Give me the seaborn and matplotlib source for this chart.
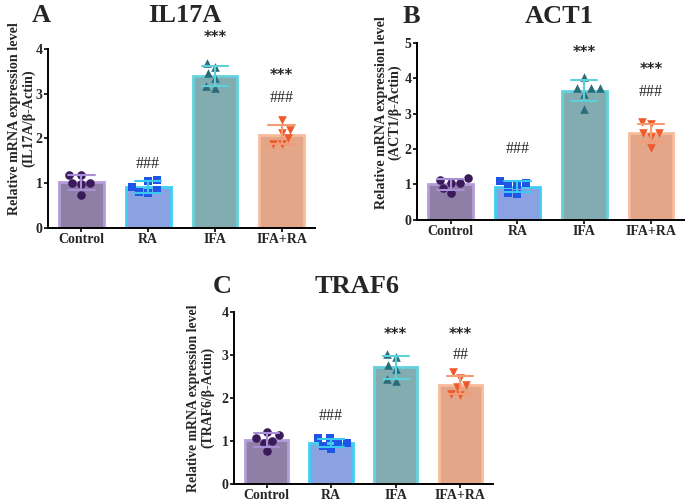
import numpy as np
import pandas as pd
import matplotlib
matplotlib.use("Agg")
import matplotlib.pyplot as plt
import seaborn as sns

# ------------------------------------------------------------
# Data
# ------------------------------------------------------------
groups = ["Control", "RA", "IFA", "IFA+RA"]

il17a_control = [1.18, 1.18, 1.00, 1.00, 0.98, 0.74]
il17a_ra = [1.08, 1.05, 0.91, 0.85, 0.80, 0.78]
il17a_ifa = [3.68, 3.47, 3.60, 3.35, 3.12, 3.17]
il17a_ifa_ra = [2.41, 2.19, 2.13, 2.00, 1.87, 1.87]

act1_control = [1.17, 1.03, 0.75, 1.12, 0.90, 1.05]
act1_ra = [0.99, 1.11, 0.75, 1.02, 0.72, 1.04]
act1_ifa = [4.02, 3.71, 3.72, 3.55, 3.73, 3.12]
act1_ifa_ra = [2.76, 2.71, 2.44, 2.45, 2.33, 2.03]

traf6_control = [1.06, 1.20, 1.00, 1.14, 0.95, 0.76]
traf6_ra = [0.89, 1.06, 0.95, 0.96, 1.06, 0.81]
traf6_ifa = [2.95, 3.03, 2.77, 2.66, 2.39, 2.44]
traf6_ifa_ra = [2.60, 2.47, 2.30, 2.25, 2.08, 2.06]

# significance marks: (group, text, y)
il17a_marks = [("IFA", "***", 4.25), ("IFA+RA", "***", 3.40),
               ("IFA+RA", "###", 2.90), ("RA", "###", 1.43)]
act1_marks = [("IFA", "***", 4.73), ("IFA+RA", "***", 4.24),
              ("IFA+RA", "###", 3.60), ("RA", "###", 2.00)]
traf6_marks = [("IFA", "***", 3.48), ("IFA+RA", "***", 3.48),
               ("IFA+RA", "##", 3.00), ("RA", "###", 1.58)]

# ------------------------------------------------------------
# Styling
# ------------------------------------------------------------
bar_face = {"Control": "#8E78AC", "RA": "#7B9CF0", "IFA": "#7AB3B8", "IFA+RA": "#F2A07A"}
bar_edge = {"Control": "#B49DDB", "RA": "#3FCFF4", "IFA": "#64D2DC", "IFA+RA": "#F8BC9C"}
pt_color = {"Control": "#3B1A5A", "RA": "#1F55E6", "IFA": "#2B6C7A", "IFA+RA": "#EF5A2C"}
err_color = {"Control": "#A98FD6", "RA": "#38C8F2", "IFA": "#5ED0DA", "IFA+RA": "#F59A72"}
markers = {"Control": "o", "RA": "s", "IFA": "^", "IFA+RA": "v"}

sns.set_style("ticks")
plt.rcParams["font.family"] = ["Liberation Serif", "DejaVu Serif"]
plt.rcParams["font.weight"] = "bold"


def make_df(vals):
    rows = []
    for g, v in zip(groups, vals):
        for y in v:
            rows.append({"group": g, "value": y})
    return pd.DataFrame(rows)


def draw_panel(ax, df, marks, ymax, gene, label_y, label_x, label_size):
    sns.barplot(data=df, x="group", y="value", order=groups, hue="group",
                hue_order=groups, palette=bar_face, legend=False,
                errorbar="sd", capsize=0.4, width=0.67,
                err_kws={"linewidth": 1.5}, ax=ax)
    for p, g in zip(ax.patches, groups):
        p.set_edgecolor(bar_edge[g])
        p.set_linewidth(2.0)
        p.set_zorder(1)
    for ln in ax.lines:
        xd = np.asarray(ln.get_xdata(), dtype=float)
        idx = int(round(np.nanmean(xd)))
        ln.set_color(err_color[groups[idx]])
        ln.set_zorder(5)
    for g in groups:
        sub = df[df["group"] == g]
        sns.swarmplot(data=sub, x="group", y="value", order=groups,
                      color=pt_color[g], marker=markers[g], size=6.2,
                      ax=ax, zorder=4)
    for g, txt, y in marks:
        xi = groups.index(g)
        if "*" in txt:
            ax.text(xi, y, txt, ha="center", va="center", fontsize=10.5,
                    fontweight="bold", family=["DejaVu Sans"], clip_on=False)
        else:
            ax.text(xi, y, txt, ha="center", va="center", fontsize=11.5,
                    fontweight="normal", clip_on=False)
    ax.set_xlim(-0.5, 3.5)
    ax.set_ylim(0, ymax)
    ax.set_yticks(range(0, ymax + 1))
    ax.set_xlabel("")
    ax.set_ylabel(f"Relative mRNA expression level\n({gene}/\u03b2-Actin)",
                  fontsize=label_size, fontweight="bold", linespacing=1.05)
    ax.yaxis.set_label_coords(label_x, label_y)
    ax.yaxis.label.set_va("center")
    sns.despine(ax=ax)
    for s in ["left", "bottom"]:
        ax.spines[s].set_linewidth(1.4)
        ax.spines[s].set_color("black")
    ax.tick_params(axis="y", length=3, width=1.4, labelsize=10, pad=1)
    ax.tick_params(axis="x", length=3, width=1.4, labelsize=10, pad=1)
    for t in ax.get_xticklabels() + ax.get_yticklabels():
        t.set_fontweight("bold")


fig = plt.figure(figsize=(6.85, 5.03), dpi=100)
ax_a = fig.add_axes([0.070, 0.547, 0.390, 0.356])
ax_b = fig.add_axes([0.609, 0.563, 0.390, 0.352])
ax_c = fig.add_axes([0.342, 0.038, 0.377, 0.342])

draw_panel(ax_a, make_df([il17a_control, il17a_ra, il17a_ifa, il17a_ifa_ra]),
           il17a_marks, 4, "IL17A", 0.612, -0.098, 10.2)
draw_panel(ax_b, make_df([act1_control, act1_ra, act1_ifa, act1_ifa_ra]),
           act1_marks, 5, "ACT1", 0.607, -0.108, 10.2)
draw_panel(ax_c, make_df([traf6_control, traf6_ra, traf6_ifa, traf6_ifa_ra]),
           traf6_marks, 4, "TRAF6", 0.5, -0.13, 9.9)

fig.text(0.047, 0.956, "A", fontsize=19, fontweight="bold", ha="left", va="baseline")
fig.text(0.270, 0.956, "IL17A", fontsize=19, fontweight="bold", ha="center", va="baseline")
fig.text(0.588, 0.954, "B", fontsize=19, fontweight="bold", ha="left", va="baseline")
fig.text(0.816, 0.954, "ACT1", fontsize=19, fontweight="bold", ha="center", va="baseline")
fig.text(0.311, 0.4175, "C", fontsize=19, fontweight="bold", ha="left", va="baseline")
fig.text(0.521, 0.4175, "TRAF6", fontsize=19, fontweight="bold", ha="center", va="baseline")

fig.savefig("out.png", dpi=100)
